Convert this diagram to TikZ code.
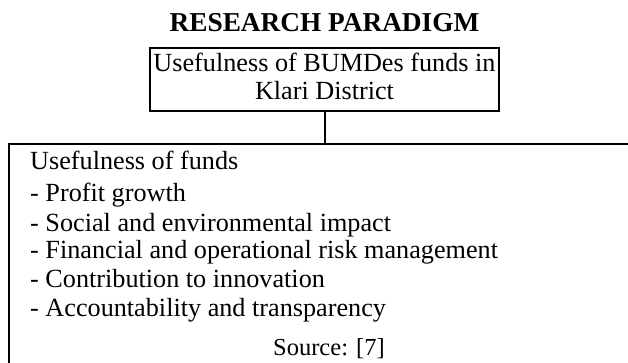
\documentclass[tikz,border=0pt]{standalone}
\usepackage{fontspec}
\setmainfont{Liberation Serif}
\begin{document}
\begin{tikzpicture}[x=1pt,y=-1pt,
  boxline/.style={draw=black, line width=2pt, outer sep=0pt, inner sep=0pt},
  bodytext/.style={inner sep=0pt, font=\fontsize{26.2pt}{28pt}\selectfont},
  srctext/.style={inner sep=0pt, font=\fontsize{24.5pt}{28pt}\selectfont},
  titletext/.style={inner sep=0pt, font=\fontsize{27.3pt}{29pt}\selectfont\bfseries},
  conn/.style={draw=black, line width=2pt}]
\useasboundingbox (0,0) rectangle (628,363);
\clip (0,0) rectangle (628,363);
% title
\node[titletext, anchor=base] (title) at (324.5,32) {RESEARCH PARADIGM};
% top box
\node[boxline, minimum width=349pt, minimum height=63pt] (topbox) at (324.5,79.5) {};
\node[bodytext, anchor=base] (t1) at (324.5,72) {Usefulness of BUMDes funds in};
\node[bodytext, anchor=base] (t2) at (324.5,100) {Klari District};
% big box (cut off at right and bottom)
\node[boxline, anchor=north west, minimum width=700pt, minimum height=300pt] (big) at (9,144) {};
\draw[conn] (topbox.south) -- (topbox.south |- big.north);
% list
\node[bodytext, anchor=base west] (l0) at (30,170) {Usefulness of funds};
\node[bodytext, anchor=base west] (l1) at (30,202) {- Profit growth};
\node[bodytext, anchor=base west] (l2) at (30,231) {- Social and environmental impact};
\node[bodytext, anchor=base west] (l3) at (30,258) {- Financial and operational risk management};
\node[bodytext, anchor=base west] (l4) at (30,287) {- Contribution to innovation};
\node[bodytext, anchor=base west] (l5) at (30,316) {- Accountability and transparency};
\node[srctext, anchor=base] (src) at (329,355) {Source: [7]};
\end{tikzpicture}
\end{document}
